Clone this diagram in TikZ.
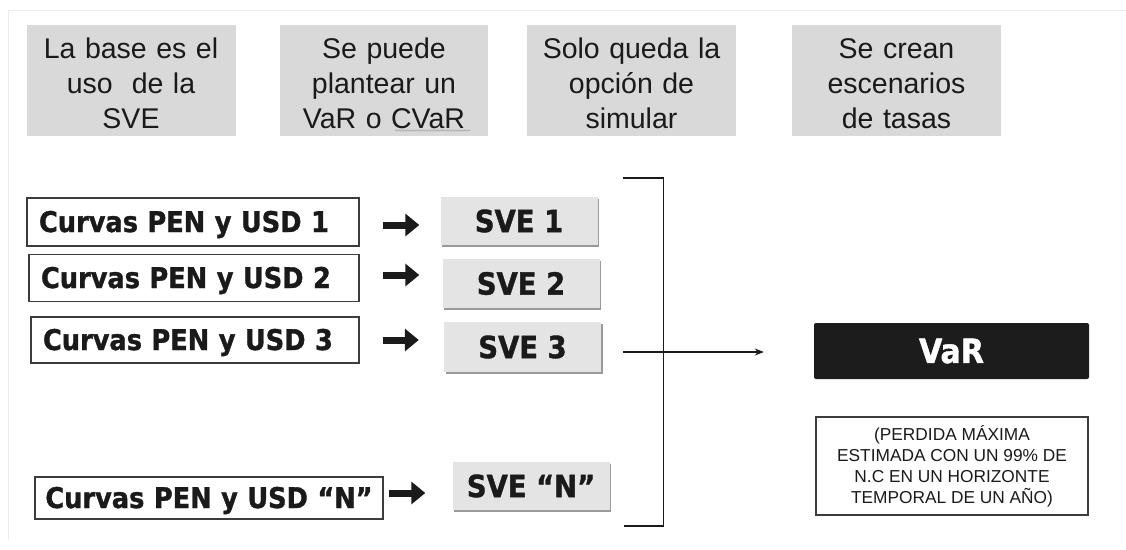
\documentclass[tikz,border=0pt]{standalone}
\usepackage{fontspec}
\setmainfont{Liberation Sans}
\newfontfamily\tah{DejaVuSansCondensed-Bold.ttf}[FakeBold=1.2]
\usetikzlibrary{calc,arrows.meta,shadows,decorations.pathmorphing}
\definecolor{topgray}{HTML}{D9D9D9}
\definecolor{svegray}{HTML}{E4E4E4}
\definecolor{shadowgray}{HTML}{9A9A9A}
\definecolor{ink}{HTML}{1A1A1A}
\definecolor{varblack}{HTML}{1C1C1C}
\tikzset{
  topbox/.style={fill=topgray, minimum width=209pt, minimum height=111pt, inner sep=0pt},
  toptext/.style={inner sep=0pt, text width=205pt, align=center, text=ink,
    font=\fontsize{28.5}{35}\selectfont},
  curvbox/.style={draw=ink!85, line width=1.2pt, fill=white, minimum height=47pt,
    inner xsep=12pt, inner ysep=0pt, align=left, text=ink, text height=24pt, text depth=4pt,
    font=\tah\fontsize{28.5}{32}\selectfont},
  svebox/.style={fill=svegray, minimum width=157pt, minimum height=48pt, inner sep=0pt,
    text=ink, font=\tah\fontsize{30.5}{34}\selectfont,
    drop shadow={shadow xshift=1.6pt, shadow yshift=-1.6pt, fill=shadowgray, opacity=1}},
  blockarr/.style={line width=7pt, draw=ink, -{Triangle[length=14pt,width=22pt]}},
  thinline/.style={draw=ink, line width=1.1pt},
  notebox/.style={draw=ink!85, line width=1.1pt, minimum width=272pt, minimum height=98pt,
    inner sep=0pt, align=center, text=ink, font=\fontsize{17.3}{21}\selectfont},
}
\begin{document}
\begin{tikzpicture}[x=1pt,y=-1pt]
\useasboundingbox (0,0) rectangle (1126,549);
\fill[white] (0,0) rectangle (1126,549);
\draw[black!7, line width=0.8pt] (8,540) -- (8,10) -- (1126,10);

% top boxes
\node[topbox] (t1) at (131,80.5) {};
\node[topbox, minimum width=208pt] (t2) at (384,80.5) {};
\node[topbox] (t3) at (631.5,80.5) {};
\node[topbox] (t4) at (896.5,80.5) {};
\node[toptext] (t1t) at ($(t1.center)+(0,3)$) {La base es el\\uso\ \ de la\\SVE};
\node[toptext] (t2t) at ($(t2.center)+(0,3)$) {Se puede\\plantear un\\VaR o CVaR};
\node[toptext] (t3t) at ($(t3.center)+(0,3)$) {Solo queda la\\opción de\\simular};
\node[toptext] (t4t) at ($(t4.center)+(0,3)$) {Se crean\\escenarios\\de tasas};
\draw[gray!70, line width=0.6pt, decorate, decoration={snake, amplitude=0.8pt, segment length=3pt}]
  ($(t2.center)+(11,50)$) -- ($(t2.center)+(86,50)$);

% curvas boxes
\node[curvbox, text width=308pt, minimum height=48pt] (c1) at (193,222) {Curvas PEN y USD 1};
\node[curvbox, text width=306pt] (c2) at (194,278) {Curvas PEN y USD 2};
\node[curvbox, text width=304pt, minimum height=46pt] (c3) at (195,340) {Curvas PEN y USD 3};
\node[curvbox, text width=342pt, inner xsep=3pt, align=center, minimum height=42pt] (cN) at (209,498) {Curvas PEN y USD “N”};

% SVE boxes
\node[svebox] (s1) at (519,221) {SVE 1};
\node[svebox, minimum height=49pt] (s2) at (521,283.5) {SVE 2};
\node[svebox, minimum height=50pt] (s3) at (522.5,347) {SVE 3};
\node[svebox] (sN) at (531,486) {SVE “N”};

% block arrows
\draw[blockarr] ($(c1.east)+(23,3)$) -- ($(s1.west)+(-21,4)$);
\draw[blockarr] ($(c2.east)+(23,-3)$) -- ($(s2.west)+(-23,-8.5)$);
\draw[blockarr] ($(c3.east)+(23,0)$) -- ($(s3.west)+(-25,-7)$);
\draw[blockarr] ($(cN.east)+(5,-5)$) -- ($(sN.west)+(-27,7)$);

% VaR
\node[fill=varblack, rounded corners=2pt, minimum width=275pt, minimum height=56pt, inner sep=0pt,
  text=white, font=\tah\fontsize{33.5}{38}\selectfont] (var) at (951.5,351) {VaR};
\node[notebox] (note) at (952,466) {(PERDIDA MÁXIMA\\ESTIMADA CON UN 99\% DE\\N.C EN UN HORIZONTE\\TEMPORAL DE UN AÑO)};

% bracket
\coordinate (bt) at ($(s1.east)+(25,-43)$);
\coordinate (bb) at ($(sN.east)+(14,40)$);
\draw[thinline] (bt) -- ++(41,0) |- (bb);
\draw[thinline, -{Stealth[length=9pt,width=7pt]}] ($(s3.east)+(22,5)$) -- ($(var.west)+(-50,1)$);
\end{tikzpicture}
\end{document}
